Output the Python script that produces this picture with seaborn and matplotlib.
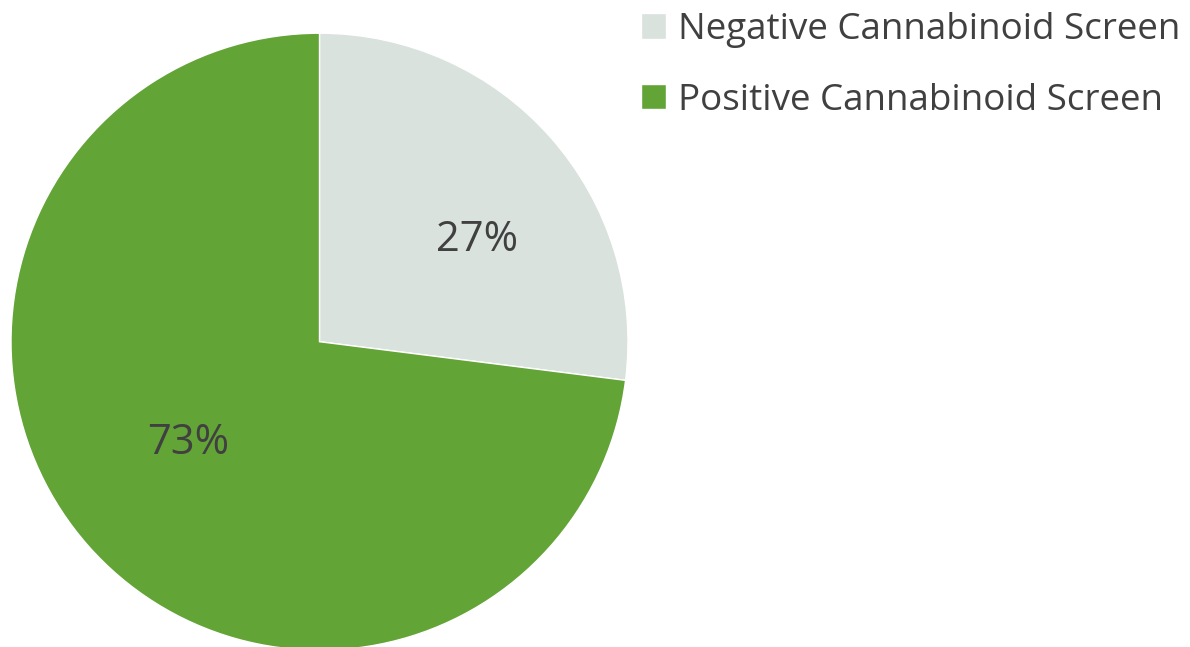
import matplotlib
matplotlib.use("Agg")
import matplotlib.pyplot as plt
import seaborn as sns

categories = ["Negative Cannabinoid Screen", "Positive Cannabinoid Screen"]
shares = [27, 73]
colors = ["#D9E2DD", "#63A437"]
text_color = "#404040"

sns.set_theme(style="white")
plt.rcParams["font.family"] = ["Open Sans", "DejaVu Sans"]

fig = plt.figure(figsize=(11.9, 6.47), dpi=100)
# pie circle: centre ~ (319.5, 341.7) px, radius ~308.5 px
W, H = 1190, 647
r = 308.5
ax = fig.add_axes([(319.5 - r) / W, (H - 341.7 - r) / H, 2 * r / W, 2 * r / H])

wedges, texts, autotexts = ax.pie(
    shares, colors=colors, startangle=90, counterclock=False,
    autopct="%1.0f%%", pctdistance=0.57,
    wedgeprops=dict(edgecolor="white", linewidth=1),
    textprops=dict(color=text_color, fontsize=30),
)
ax.set_xlim(-1, 1)
ax.set_ylim(-1, 1)
ax.set_aspect("equal")
ax.axis("off")

# nudge labels to where the reference puts them
autotexts[0].set_position((0.51, 0.33))
autotexts[1].set_position((-0.426, -0.328))

leg = fig.legend(
    wedges, categories, loc="upper left", bbox_to_anchor=(641 / W, 1 - 12 / H),
    frameon=False, fontsize=26.5, handlelength=0.68, handleheight=0.68,
    handletextpad=0.33, labelspacing=0.94, borderaxespad=0, borderpad=0,
)
for t in leg.get_texts():
    t.set_color(text_color)

fig.savefig("out.png", dpi=100)
